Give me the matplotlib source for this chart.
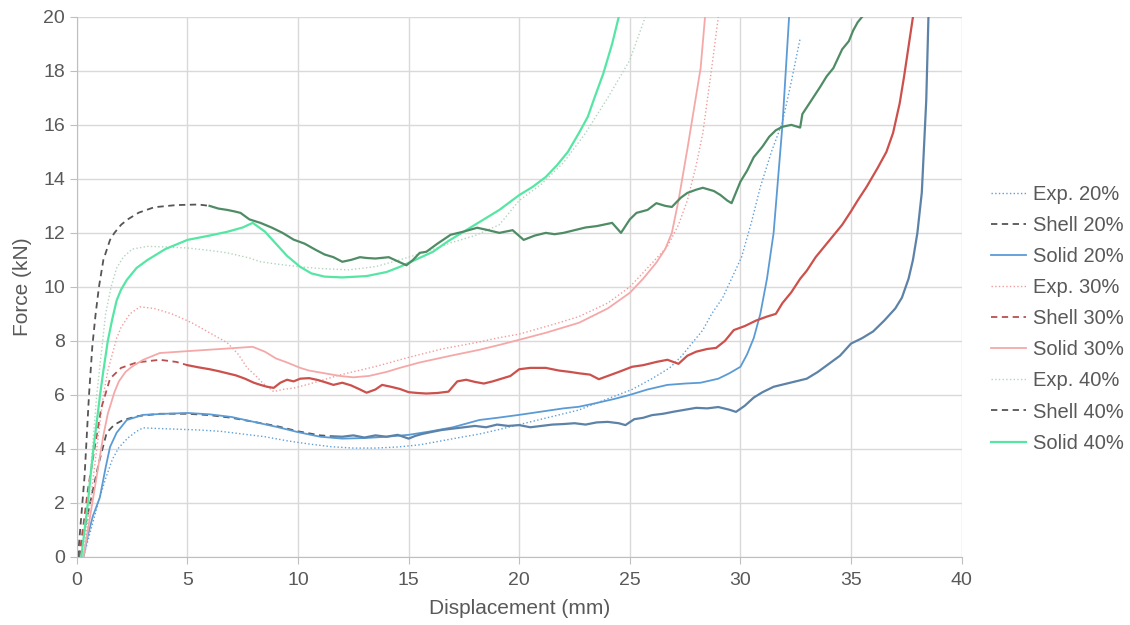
import matplotlib
matplotlib.use('Agg')
import matplotlib.pyplot as plt

plt.rcParams['font.family'] = ['Liberation Sans', 'DejaVu Sans']
plt.rcParams['font.size'] = 14
plt.rcParams['text.color'] = '#595959'

# Exp. 20%
exp20_x = [0.3, 0.5, 0.7, 1.0, 1.3, 1.6, 1.9, 2.3, 2.7, 3.0, 3.5, 4.5, 5.5, 6.5, 7.5, 8.5, 9.5, 10.5, 11.5,
           12.5, 13.5, 14.5, 15.5, 16.5, 17.5, 18.2, 19, 20, 21, 22, 22.7, 23.5, 24.3, 25.1, 26, 26.8, 27.3,
           27.8, 28.3, 28.7, 29.2, 30.05, 30.5, 30.9, 31.4, 31.9, 32.3, 32.7]
exp20_y = [0, 0.6, 1.2, 2.1, 2.9, 3.6, 4.05, 4.4, 4.65, 4.78, 4.76, 4.73, 4.7, 4.65, 4.55, 4.45, 4.3, 4.18, 4.08,
           4.03, 4.03, 4.07, 4.15, 4.3, 4.45, 4.55, 4.7, 4.9, 5.1, 5.3, 5.44, 5.7, 5.95, 6.2, 6.6, 7.0, 7.4,
           7.9, 8.4, 9.0, 9.6, 11.1, 12.4, 13.7, 15.0, 16.1, 17.6, 19.2]

# Shell 20% (dashed part, then measured-like part)
shell20_x = [0.1, 0.3, 0.6, 1.0, 1.35, 1.7, 2.1, 2.8, 3.75, 5.0, 6.0, 7.0, 8.0, 9.0, 10.0, 11.0, 11.5]
shell20_y = [0, 0.8, 2.0, 3.5, 4.6, 4.9, 5.07, 5.22, 5.3, 5.3, 5.25, 5.15, 5.0, 4.85, 4.65, 4.5, 4.47]
shell20b_x = [11.5, 12, 12.5, 13, 13.5, 14, 14.5, 15, 15.3, 15.6, 16, 16.5, 17, 17.5, 18, 18.5, 19, 19.5, 20,
              20.5, 21, 21.5, 22, 22.5, 23, 23.5, 24, 24.5, 24.8, 25.2, 25.6, 26, 26.5, 27, 27.5, 28, 28.5,
              29, 29.5, 29.8, 30.2, 30.6, 31, 31.5, 32, 32.5, 33, 33.5, 34, 34.5, 35, 35.5, 36, 36.5, 37,
              37.3, 37.6, 37.8, 38, 38.2, 38.4, 38.5]
shell20b_y = [4.47, 4.45, 4.5, 4.42, 4.5, 4.45, 4.52, 4.38, 4.48, 4.55, 4.62, 4.7, 4.75, 4.8, 4.85, 4.8, 4.9,
              4.85, 4.88, 4.8, 4.85, 4.9, 4.92, 4.95, 4.9, 4.98, 5.0, 4.95, 4.88, 5.1, 5.15, 5.25, 5.3, 5.38,
              5.45, 5.52, 5.5, 5.55, 5.45, 5.37, 5.6, 5.9, 6.1, 6.3, 6.4, 6.5, 6.6, 6.85, 7.15, 7.45, 7.9,
              8.1, 8.35, 8.75, 9.2, 9.6, 10.3, 11.0, 12.0, 13.5, 16.9, 20.0]

# Solid 20%
solid20_x = [0.3, 0.5, 0.72, 1.04, 1.3, 1.5, 1.8, 2.26, 3.0, 4.0, 5.0, 6.0, 7.0, 8.0, 9.0, 10.0, 11.0, 12.0,
             13.0, 14.0, 15.0, 16.0, 17.0, 18.2, 19, 20, 21, 22, 22.7, 23.5, 24.3, 25, 25.8, 26.7, 27.5, 28.2,
             29, 29.5, 30, 30.3, 30.6, 30.9, 31.2, 31.5, 31.9, 32.2]
solid20_y = [0, 0.8, 1.5, 2.2, 3.3, 4.07, 4.6, 5.07, 5.26, 5.3, 5.33, 5.28, 5.18, 5.0, 4.82, 4.62, 4.45, 4.38,
             4.4, 4.45, 4.52, 4.65, 4.8, 5.07, 5.15, 5.26, 5.38, 5.5, 5.56, 5.7, 5.85, 6.0, 6.2, 6.37, 6.42,
             6.45, 6.6, 6.8, 7.04, 7.5, 8.1, 9.0, 10.3, 12.0, 16.0, 20.0]

# Exp. 30%
exp30_x = [0.3, 0.45, 0.6, 0.75, 0.9, 1.05, 1.2, 1.4, 1.6, 1.8, 2.0, 2.4, 2.85, 3.5, 4.3, 5.2, 6.0, 6.8, 7.3,
           7.7, 8.1, 8.4, 8.9, 9.3, 9.8, 10.5, 11.9, 13.5, 15.05, 16.5, 18.2, 19.1, 20, 21.5, 22.7, 24, 25,
           25.8, 26.7, 27.2, 27.6, 28.0, 28.3, 28.7, 29.0]
exp30_y = [0, 1.0, 2.0, 3.0, 4.0, 5.0, 6.0, 6.9, 7.5, 8.1, 8.5, 9.0, 9.26, 9.2, 9.0, 8.67, 8.3, 7.93, 7.5,
           7.0, 6.7, 6.44, 6.12, 6.2, 6.25, 6.4, 6.74, 7.05, 7.4, 7.7, 7.96, 8.12, 8.25, 8.6, 8.9, 9.4, 10.0,
           10.7, 11.5, 12.3, 13.2, 14.5, 15.7, 18.1, 20.0]

# Shell 30%
shell30_x = [0.1, 0.3, 0.5, 0.8, 1.1, 1.5, 2.0, 2.7, 3.75, 4.5, 5.0]
shell30_y = [0, 1.2, 2.5, 4.0, 5.5, 6.6, 7.0, 7.2, 7.3, 7.22, 7.1]
shell30b_x = [5.0, 5.5, 6.0, 6.4, 6.8, 7.2, 7.6, 8.0, 8.3, 8.6, 8.9, 9.2, 9.5, 9.8, 10.1, 10.5, 10.9, 11.3,
              11.6, 12.0, 12.4, 12.8, 13.1, 13.5, 13.8, 14.2, 14.6, 15.0, 15.4, 15.8, 16.3, 16.8, 17.2, 17.6,
              18.0, 18.4, 18.8, 19.2, 19.6, 20, 20.5, 21.2, 21.8, 22.3, 22.7, 23.2, 23.6, 24.0, 24.5, 25.1,
              25.6, 26.2, 26.7, 27.2, 27.6, 28, 28.5, 28.9, 29.3, 29.7, 30.2, 30.7, 31.2, 31.6, 31.9, 32.3,
              32.7, 33.0, 33.4, 33.8, 34.2, 34.6, 35.0, 35.3, 35.7, 36.2, 36.6, 36.9, 37.2, 37.4, 37.6, 37.8]
shell30b_y = [7.1, 7.02, 6.95, 6.88, 6.8, 6.72, 6.6, 6.45, 6.37, 6.3, 6.26, 6.45, 6.56, 6.5, 6.6, 6.62, 6.55,
              6.45, 6.37, 6.45, 6.35, 6.2, 6.08, 6.2, 6.37, 6.3, 6.22, 6.1, 6.07, 6.05, 6.07, 6.12, 6.5, 6.56,
              6.48, 6.42, 6.5, 6.6, 6.7, 6.95, 7.0, 7.0, 6.9, 6.85, 6.8, 6.75, 6.58, 6.7, 6.85, 7.04, 7.1,
              7.22, 7.3, 7.15, 7.45, 7.6, 7.7, 7.74, 8.0, 8.4, 8.55, 8.75, 8.9, 9.0, 9.4, 9.8, 10.3, 10.6,
              11.1, 11.5, 11.9, 12.3, 12.8, 13.2, 13.7, 14.4, 15.0, 15.7, 16.8, 17.8, 18.9, 20.0]

# Solid 30%
solid30_x = [0.3, 0.5, 0.7, 1.0, 1.2, 1.4, 1.7, 1.9, 2.2, 2.5, 3.0, 3.75, 5.0, 6.5, 7.95, 8.5, 9.0, 9.5, 10.1,
             10.5, 11.2, 11.9, 12.5, 13.2, 14.0, 14.6, 15.5, 16.9, 18.2, 19.1, 20, 21.2, 22.7, 24, 25, 25.6,
             26.2, 26.6, 26.9, 27.2, 27.6, 27.9, 28.2, 28.4]
solid30_y = [0, 1.0, 2.0, 3.5, 4.5, 5.3, 6.1, 6.5, 6.85, 7.05, 7.3, 7.55, 7.62, 7.7, 7.78, 7.6, 7.35, 7.2, 7.0,
             6.9, 6.8, 6.7, 6.65, 6.7, 6.85, 7.0, 7.2, 7.45, 7.67, 7.85, 8.04, 8.3, 8.67, 9.2, 9.78, 10.3,
             10.9, 11.4, 12.0, 13.2, 15.1, 16.6, 18.1, 20.0]

# Exp. 40%
exp40_x = [0.3, 0.45, 0.6, 0.75, 0.9, 1.1, 1.3, 1.55, 1.8, 2.1, 2.5, 3.2, 4.0, 5.0, 6.0, 6.8, 7.8, 8.3, 9.0,
           10.1, 11.0, 12.3, 13.5, 14.6, 15.8, 16.9, 18.0, 19.1, 20, 21, 22, 23, 24, 25, 25.7]
exp40_y = [0, 1.5, 3.0, 4.5, 6.0, 7.5, 9.0, 10.0, 10.7, 11.1, 11.4, 11.5, 11.48, 11.44, 11.35, 11.26, 11.07,
           10.93, 10.85, 10.74, 10.68, 10.63, 10.75, 11.0, 11.3, 11.63, 11.9, 12.3, 13.2, 13.8, 14.6, 15.7,
           17.0, 18.4, 20.0]

# Shell 40%
shell40_x = [0.05, 0.2, 0.35, 0.45, 0.55, 0.7, 0.85, 1.0, 1.2, 1.5, 1.7, 2.0, 2.3, 2.8, 3.5, 4.5, 5.5, 6.0]
shell40_y = [0, 1.5, 3.0, 4.5, 6.0, 7.8, 9.0, 10.0, 11.0, 11.74, 12.0, 12.3, 12.5, 12.75, 12.95, 13.03, 13.05,
             13.0]
shell40b_x = [6.0, 6.4, 6.8, 7.1, 7.4, 7.8, 8.3, 8.8, 9.3, 9.8, 10.3, 10.8, 11.2, 11.6, 12.0, 12.4, 12.8, 13.1,
              13.5, 14.1, 14.5, 14.9, 15.2, 15.5, 15.8, 16.3, 16.9, 17.5, 18.1, 18.6, 19.1, 19.7, 20.2, 20.7,
              21.2, 21.6, 22, 22.5, 23, 23.5, 24.2, 24.6, 25.0, 25.3, 25.8, 26.2, 26.6, 26.9, 27.3, 27.6, 28.0,
              28.3, 28.8, 29.1, 29.4, 29.6, 29.8, 30.0, 30.3, 30.6, 31.0, 31.3, 31.6, 31.9, 32.3, 32.7, 32.8,
              33.2, 33.6, 33.9, 34.2, 34.6, 34.9, 35.1, 35.3, 35.5]
shell40b_y = [13.0, 12.9, 12.85, 12.8, 12.74, 12.5, 12.37, 12.2, 12.0, 11.75, 11.6, 11.37, 11.2, 11.1, 10.93,
              11.0, 11.1, 11.07, 11.05, 11.1, 10.95, 10.8, 11.0, 11.26, 11.3, 11.6, 11.93, 12.05, 12.19, 12.1,
              12.0, 12.1, 11.74, 11.9, 12.0, 11.95, 12.0, 12.1, 12.2, 12.25, 12.37, 12.0, 12.5, 12.74, 12.85,
              13.1, 13.0, 12.96, 13.3, 13.48, 13.6, 13.67, 13.55, 13.4, 13.2, 13.1, 13.5, 13.9, 14.3, 14.8,
              15.2, 15.56, 15.8, 15.93, 16.0, 15.9, 16.4, 16.9, 17.4, 17.8, 18.1, 18.8, 19.1, 19.5, 19.8, 20.0]

# Solid 40%
solid40_x = [0.2, 0.35, 0.5, 0.62, 0.75, 0.9, 1.05, 1.2, 1.4, 1.6, 1.8, 2.0, 2.26, 2.7, 3.2, 4.0, 5.0, 6.0, 6.8,
             7.5, 7.95, 8.5, 9.0, 9.5, 10.1, 10.6, 11.2, 12.0, 13.1, 14.0, 14.6, 15.3, 16.1, 16.8, 17.6, 18.3,
             19.1, 20, 20.6, 21.2, 21.7, 22.2, 22.7, 23.1, 23.4, 23.8, 24.2, 24.5]
solid40_y = [0, 1.0, 2.0, 3.0, 4.0, 5.0, 6.0, 6.9, 8.0, 8.8, 9.5, 9.9, 10.26, 10.7, 11.0, 11.4, 11.74, 11.9,
             12.04, 12.2, 12.37, 12.05, 11.6, 11.15, 10.74, 10.5, 10.38, 10.35, 10.4, 10.55, 10.74, 11.0, 11.3,
             11.7, 12.1, 12.45, 12.85, 13.4, 13.7, 14.07, 14.5, 15.0, 15.7, 16.3, 17.0, 17.9, 19.0, 20.0]

x_ticks = [0, 5, 10, 15, 20, 25, 30, 35, 40]
y_ticks = [0, 2, 4, 6, 8, 10, 12, 14, 16, 18, 20]

fig = plt.figure(figsize=(11.3, 6.25), dpi=100)
ax = fig.add_axes([0.068, 0.109, 0.783, 0.864])

ax.plot(exp20_x, exp20_y, ':', color='#5f9fd8', lw=1.0, label='Exp. 20%')
ax.plot(shell20_x, shell20_y, color='#555555', lw=1.3, dashes=(3.5, 2.5), label='Shell 20%')
ax.plot(solid20_x, solid20_y, '-', color='#5b9bd5', lw=1.3, label='Solid 20%')
ax.plot(exp30_x, exp30_y, ':', color='#f19c9c', lw=1.0, label='Exp. 30%')
ax.plot(shell30_x, shell30_y, color='#b9504f', lw=1.3, dashes=(3.5, 2.5), label='Shell 30%')
ax.plot(solid30_x, solid30_y, '-', color='#f5a8a8', lw=1.3, label='Solid 30%')
ax.plot(exp40_x, exp40_y, ':', color='#b4d4bf', lw=1.0, label='Exp. 40%')
ax.plot(shell40_x, shell40_y, color='#555555', lw=1.3, dashes=(3.5, 2.5), label='Shell 40%')
ax.plot(solid40_x, solid40_y, '-', color='#55e6a4', lw=1.6, label='Solid 40%')

# rough shell traces after the dashed start
ax.plot(shell20b_x, shell20b_y, '-', color='#5d82a8', lw=1.6)
ax.plot(shell30b_x, shell30b_y, '-', color='#cc504c', lw=1.6)
ax.plot(shell40b_x, shell40b_y, '-', color='#4f8c66', lw=1.6)

ax.set_xlim(0, 40)
ax.set_ylim(0, 20)
ax.set_xticks(x_ticks)
ax.set_yticks(y_ticks)
ax.grid(True, color='#d9d9d9', lw=1.0)
ax.set_axisbelow(True)
for s in ['top', 'right']:
    ax.spines[s].set_visible(False)
for s in ['left', 'bottom']:
    ax.spines[s].set_color('#bfbfbf')
ax.tick_params(colors='#595959', labelsize=14, length=5, color='#bfbfbf')
ax.tick_params(axis='x', pad=6)
ax.set_xlabel('Displacement (mm)', fontsize=15, color='#595959', labelpad=7)
ax.set_ylabel('Force (kN)', fontsize=15, color='#595959', labelpad=8)

fig.legend(loc='center left', bbox_to_anchor=(0.861, 0.49), frameon=False, fontsize=14.5,
           handlelength=1.75, handletextpad=0.35, labelspacing=0.6, labelcolor='#595959')

fig.savefig('out.png', dpi=100)
